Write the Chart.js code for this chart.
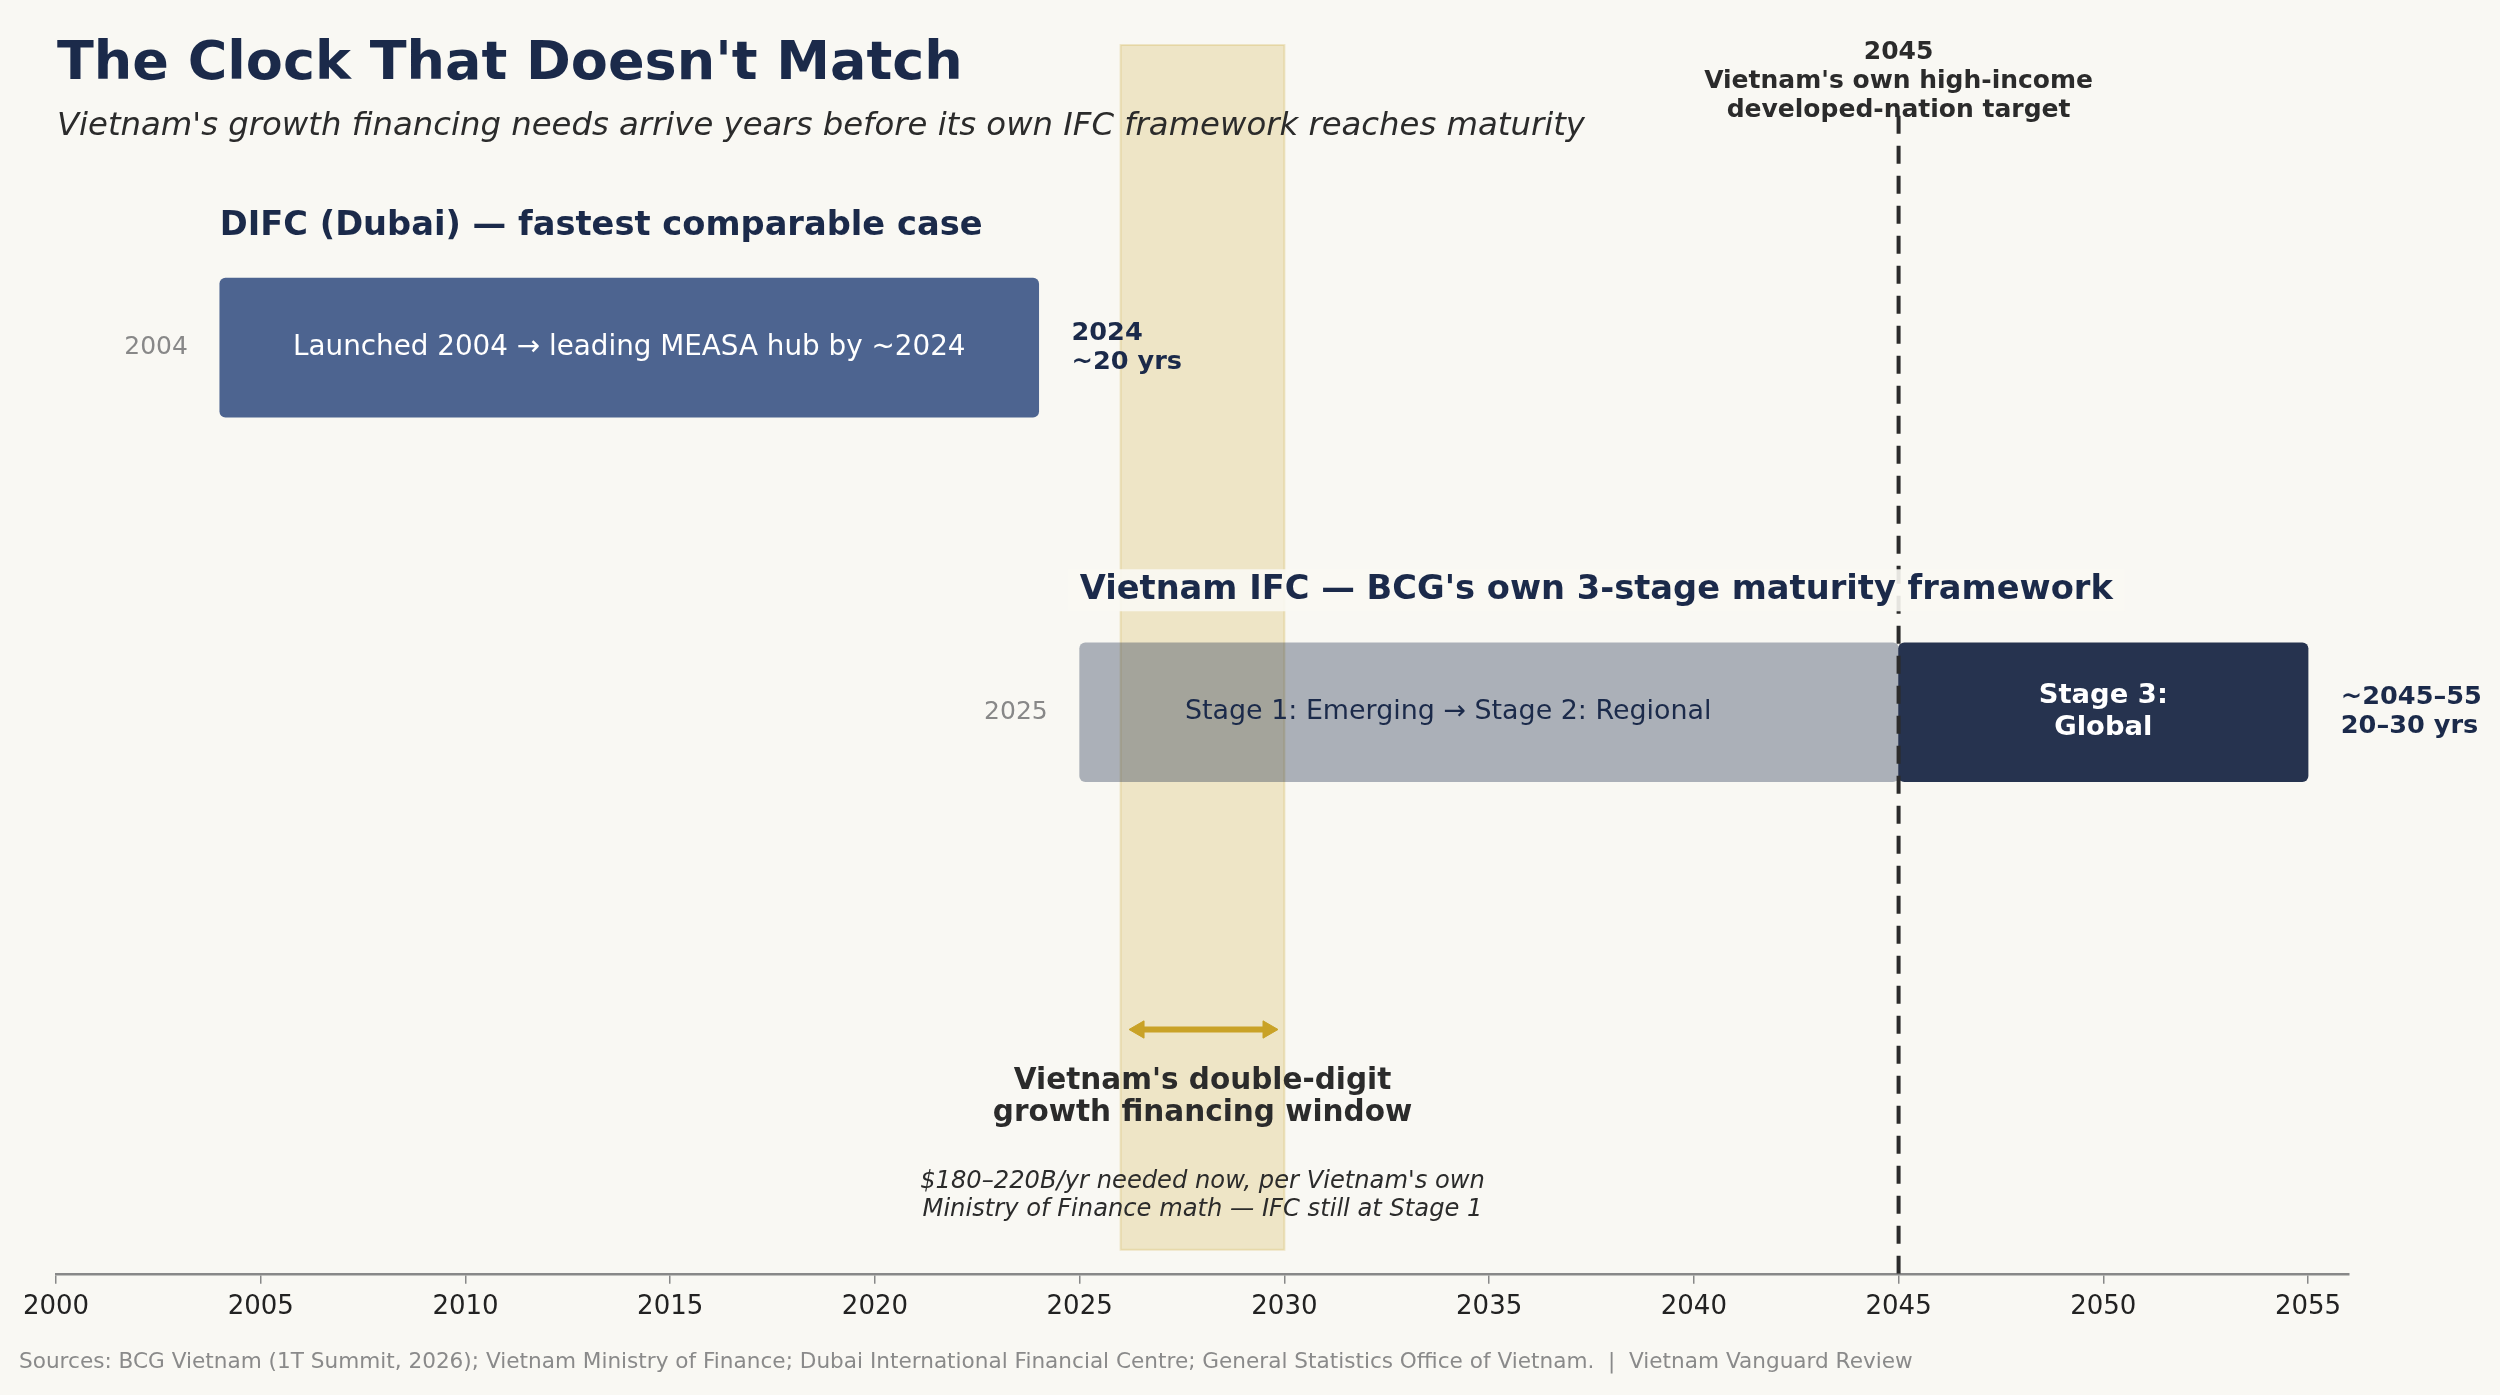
<!DOCTYPE html>
<html><head><meta charset="utf-8">
<script src="https://cdn.jsdelivr.net/npm/chart.js@4.4.1/dist/chart.umd.min.js"></script>
<style>html,body{margin:0;padding:0;background:#F9F8F3;}canvas{display:block;}</style>
</head><body>
<canvas id="c" width="2500" height="1395"></canvas>
<script>
// ---- data ----
const titleText = "The Clock That Doesn't Match";
const subtitleText = "Vietnam's growth financing needs arrive years before its own IFC framework reaches maturity";
const sourceText = "Sources: BCG Vietnam (1T Summit, 2026); Vietnam Ministry of Finance; Dubai International Financial Centre; General Statistics Office of Vietnam.  |  Vietnam Vanguard Review";
const tickYears = [2000, 2005, 2010, 2015, 2020, 2025, 2030, 2035, 2040, 2045, 2050, 2055];
const laneHeaders = ["DIFC (Dubai) — fastest comparable case", "Vietnam IFC — BCG's own 3-stage maturity framework"];
const laneRow = [3, 2];
const laneStartYear = [2004, 2025];
const segLabels = ["Launched 2004 → leading MEASA hub by ~2024", "Stage 1: Emerging → Stage 2: Regional", "Stage 3:\nGlobal"];
const segStart = [2004, 2025, 2045];
const segEnd = [2024, 2045, 2055];
const segRow = [3, 2, 2];
const segLabelYear = [2014, 2034, 2050];
const endNotes = ["2024\n~20 yrs", "~2045–55\n20–30 yrs"];
const endNoteYear = [2024.8, 2055.8];
const windowYears = [2026, 2030];
const windowArrowYears = [2026.45, 2029.6];
const windowRow = 1.13;
const windowTitle = "Vietnam's double-digit\ngrowth financing window";
const windowNote = "$180–220B/yr needed now, per Vietnam's own\nMinistry of Finance math — IFC still at Stage 1";
const targetYear = 2045;
const targetLineRows = [0.46, 3.638];
const targetLabel = "2045\nVietnam's own high-income\ndeveloped-nation target";

// ---- styles ----
const BG = '#F9F8F3', NAVY = '#1B2A4A', INK = '#2B2B2B', GOLD = '#C9A227';
const FONT = '"DejaVu Sans", "Liberation Sans", sans-serif';
const f = (w, s, st) => (st ? st + ' ' : '') + (w ? w + ' ' : '') + s + 'px ' + FONT;
function multi(ctx, text, x, y, lh) { text.split('\n').forEach((t, i) => ctx.fillText(t, x, y + i * lh)); }

const deco = {
  id: 'deco',
  beforeDraw(chart) {
    const c = chart.ctx; c.save(); c.fillStyle = BG; c.fillRect(0, 0, chart.width, chart.height); c.restore();
  },
  beforeDatasetsDraw(chart) {
    const { ctx, scales: { x, y }, chartArea } = chart;
    const x0 = x.getPixelForValue(windowYears[0]), x1 = x.getPixelForValue(windowYears[1]);
    const yt = chartArea.top, yb = chartArea.bottom - 24;
    ctx.save();
    ctx.fillStyle = 'rgba(201,162,39,0.22)';
    ctx.fillRect(x0, yt, x1 - x0, yb - yt);
    ctx.strokeStyle = 'rgba(201,162,39,0.22)'; ctx.lineWidth = 2;
    ctx.strokeRect(x0, yt, x1 - x0, yb - yt);
    ctx.restore();
  },
  afterDatasetsDraw(chart) {
    const { ctx, scales: { x, y } } = chart;
    const px = v => x.getPixelForValue(v), py = v => y.getPixelForValue(v);
    ctx.save();
    // title & subtitle
    ctx.textAlign = 'left'; ctx.textBaseline = 'alphabetic';
    ctx.fillStyle = NAVY; ctx.font = f('bold', 54); ctx.fillText(titleText, 57, 79);
    ctx.fillStyle = INK; ctx.font = f('', 32.3, 'italic'); ctx.fillText(subtitleText, 57, 135);
    // lane headers
    laneHeaders.forEach((h, i) => {
      const hx = px(laneStartYear[i]), hb = py(laneRow[i]) - 113;
      ctx.font = f('bold', 33.7);
      if (i === 1) {
        const w = ctx.measureText(h).width;
        ctx.fillStyle = 'rgba(249,248,243,0.9)';
        ctx.fillRect(hx - 12, hb - 30, w + 24, 42);
      }
      ctx.fillStyle = NAVY; ctx.textAlign = 'left'; ctx.textBaseline = 'alphabetic';
      ctx.fillText(h, hx, hb);
      // start year label
      ctx.font = f('', 25); ctx.fillStyle = '#888888'; ctx.textAlign = 'right'; ctx.textBaseline = 'middle';
      ctx.fillText(String(laneStartYear[i]), px(laneStartYear[i] - 0.78), py(laneRow[i]));
    });
    // segment labels
    ctx.textAlign = 'center'; ctx.textBaseline = 'middle';
    segLabels.forEach((t, i) => {
      const cy = py(segRow[i]);
      if (i === 0) { ctx.font = f('', 27.8); ctx.fillStyle = '#FFFFFF'; multi(ctx, t, px(segLabelYear[i]), cy, 32); }
      else if (i === 1) { ctx.font = f('', 26.9); ctx.fillStyle = NAVY; multi(ctx, t, px(segLabelYear[i]), cy, 32); }
      else { ctx.font = f('bold', 27.4); ctx.fillStyle = '#FFFFFF'; multi(ctx, t, px(segLabelYear[i]), cy - 16, 32); }
    });
    // end notes
    ctx.textAlign = 'left'; ctx.font = f('bold', 25.6); ctx.fillStyle = NAVY;
    endNotes.forEach((t, i) => multi(ctx, t, px(endNoteYear[i]), py(laneRow[i]) - 14.5, 29));
    // target label
    ctx.textAlign = 'center'; ctx.font = f('bold', 25); ctx.fillStyle = INK;
    multi(ctx, targetLabel, px(targetYear), 52, 29);
    // window texts
    const wy = py(windowRow), wx = px((windowYears[0] + windowYears[1]) / 2);
    ctx.font = f('bold', 29.5); ctx.fillStyle = INK;
    multi(ctx, windowTitle, wx, wy + 52, 32);
    ctx.font = f('', 24.2, 'italic'); ctx.fillStyle = INK;
    multi(ctx, windowNote, wx, wy + 152, 28);
    // source
    ctx.textAlign = 'left'; ctx.font = f('', 21.6); ctx.fillStyle = '#8A8A8A';
    ctx.fillText(sourceText, 19, 1362);
    ctx.restore();
  }
};

Chart.defaults.font.family = FONT;
new Chart(document.getElementById('c'), {
  type: 'bar',
  data: {
    datasets: [
      {
        type: 'bar',
        data: segStart.map((s, i) => ({ x: [s, segEnd[i]], y: segRow[i] })),
        backgroundColor: ['#4D6490', 'rgba(27,42,74,0.35)', '#26334F'],
        barThickness: 139,
        borderRadius: 6,
        borderSkipped: false,
        grouped: false,
        order: 3
      },
      {
        type: 'line',
        data: targetLineRows.map(r => ({ x: targetYear, y: r })),
        borderColor: INK,
        borderWidth: 4,
        borderDash: [18, 12],
        pointRadius: 0,
        order: 1
      },
      {
        type: 'line',
        data: windowArrowYears.map(v => ({ x: v, y: windowRow })),
        borderColor: GOLD,
        borderWidth: 6,
        pointStyle: 'triangle',
        pointRadius: 10,
        pointRotation: [-90, 90],
        pointBackgroundColor: GOLD,
        pointBorderColor: GOLD,
        pointBorderWidth: 1,
        order: 2
      }
    ]
  },
  options: {
    indexAxis: 'y',
    responsive: false,
    animation: false,
    devicePixelRatio: 1,
    layout: { padding: { left: 56, right: 151, top: 45, bottom: 64 } },
    plugins: { legend: { display: false }, tooltip: { enabled: false }, title: { display: false } },
    scales: {
      x: {
        type: 'linear', position: 'bottom', min: 2000, max: 2056,
        afterBuildTicks: s => { s.ticks = tickYears.map(v => ({ value: v })); },
        ticks: { callback: v => String(v), font: { size: 26 }, color: '#222222', padding: 8, autoSkip: false, maxRotation: 0 },
        grid: { display: true, drawOnChartArea: false, drawTicks: true, tickLength: 10, color: '#888888', lineWidth: 1.5 },
        border: { display: true, color: '#888888', width: 2.5 }
      },
      y: { type: 'linear', min: 0.46, max: 3.83, display: false, offset: false }
    }
  },
  plugins: [deco]
});
</script>
</body></html>
